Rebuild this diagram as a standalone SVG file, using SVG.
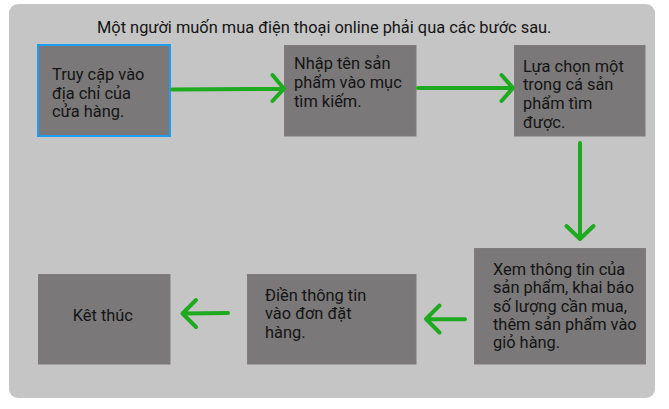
<svg xmlns="http://www.w3.org/2000/svg" width="669" height="409" viewBox="0 0 669 409">
<style>
.node{fill:#7a7878;stroke:#7e7c7c;stroke-width:1}
.sel{fill:#7a7878;stroke:#1e9cf2;stroke-width:2}
text{font-family:Roboto,"Noto Sans",sans-serif;font-size:16.4px;fill:#141414}
.c path{fill:none;stroke:#1eaa1e;stroke-width:4;stroke-linecap:round;stroke-linejoin:round}
</style>
<rect x="9" y="4" width="646" height="394" rx="9" fill="#c5c5c5"/>
<text id="title" x="97" y="33">Một người muốn mua điện thoại online phải qua các bước sau.</text>
<g id="n1"><rect class="sel" x="38" y="45" width="132" height="91"/>
<text x="52" y="80">Truy cập vào</text><text x="52" y="98.5">địa chỉ của</text><text x="52" y="117">cửa hàng.</text></g>
<g id="n2"><rect class="node" x="284.5" y="45.5" width="131.5" height="90.5"/>
<text x="294" y="69.3">Nhập tên sản</text><text x="294" y="88">phẩm vào mục</text><text x="294" y="106.7">tìm kiếm.</text></g>
<g id="n3"><rect class="node" x="514.5" y="45.5" width="130.5" height="90.5"/>
<text x="523" y="71.7">Lựa chọn một</text><text x="523" y="90.3">trong cá sản</text><text x="523" y="109">phẩm tìm</text><text x="523" y="127.5">được.</text></g>
<g id="n4"><rect class="node" x="474.5" y="248.5" width="171" height="115.5"/>
<text x="493" y="275">Xem thông tin của</text><text x="493" y="293.3">sản phẩm, khai báo</text><text x="493" y="311.7">số lượng cần mua,</text><text x="493" y="330">thêm sản phẩm vào</text><text x="493" y="348.3">giỏ hàng.</text></g>
<g id="n5"><rect class="node" x="247.5" y="274.5" width="168.5" height="89.5"/>
<text x="265" y="300.7">Điền thông tin</text><text x="265" y="319.3">vào đơn đặt</text><text x="265" y="338">hàng.</text></g>
<g id="n6"><rect class="node" x="38.5" y="274.5" width="131.5" height="89.5"/>
<text x="72.7" y="320.7">Kêt thúc</text></g>
<g class="c" id="connectors">
<path d="M172 89.5 L284 88.7 M272.5 75 L284 88.7 L272.5 101"/>
<path d="M418 88 L513 88 M501.5 75 L513 88 L501.5 101"/>
<path d="M580 143 L580 239 M566.5 226 L580 239 L593.5 226"/>
<path d="M465 319.3 L426 319 M439.5 305.5 L426 319 L439.5 332.5"/>
<path d="M228 313 L182.5 313.5 M196 300 L182.5 313.5 L196 327"/>
</g>
</svg>
